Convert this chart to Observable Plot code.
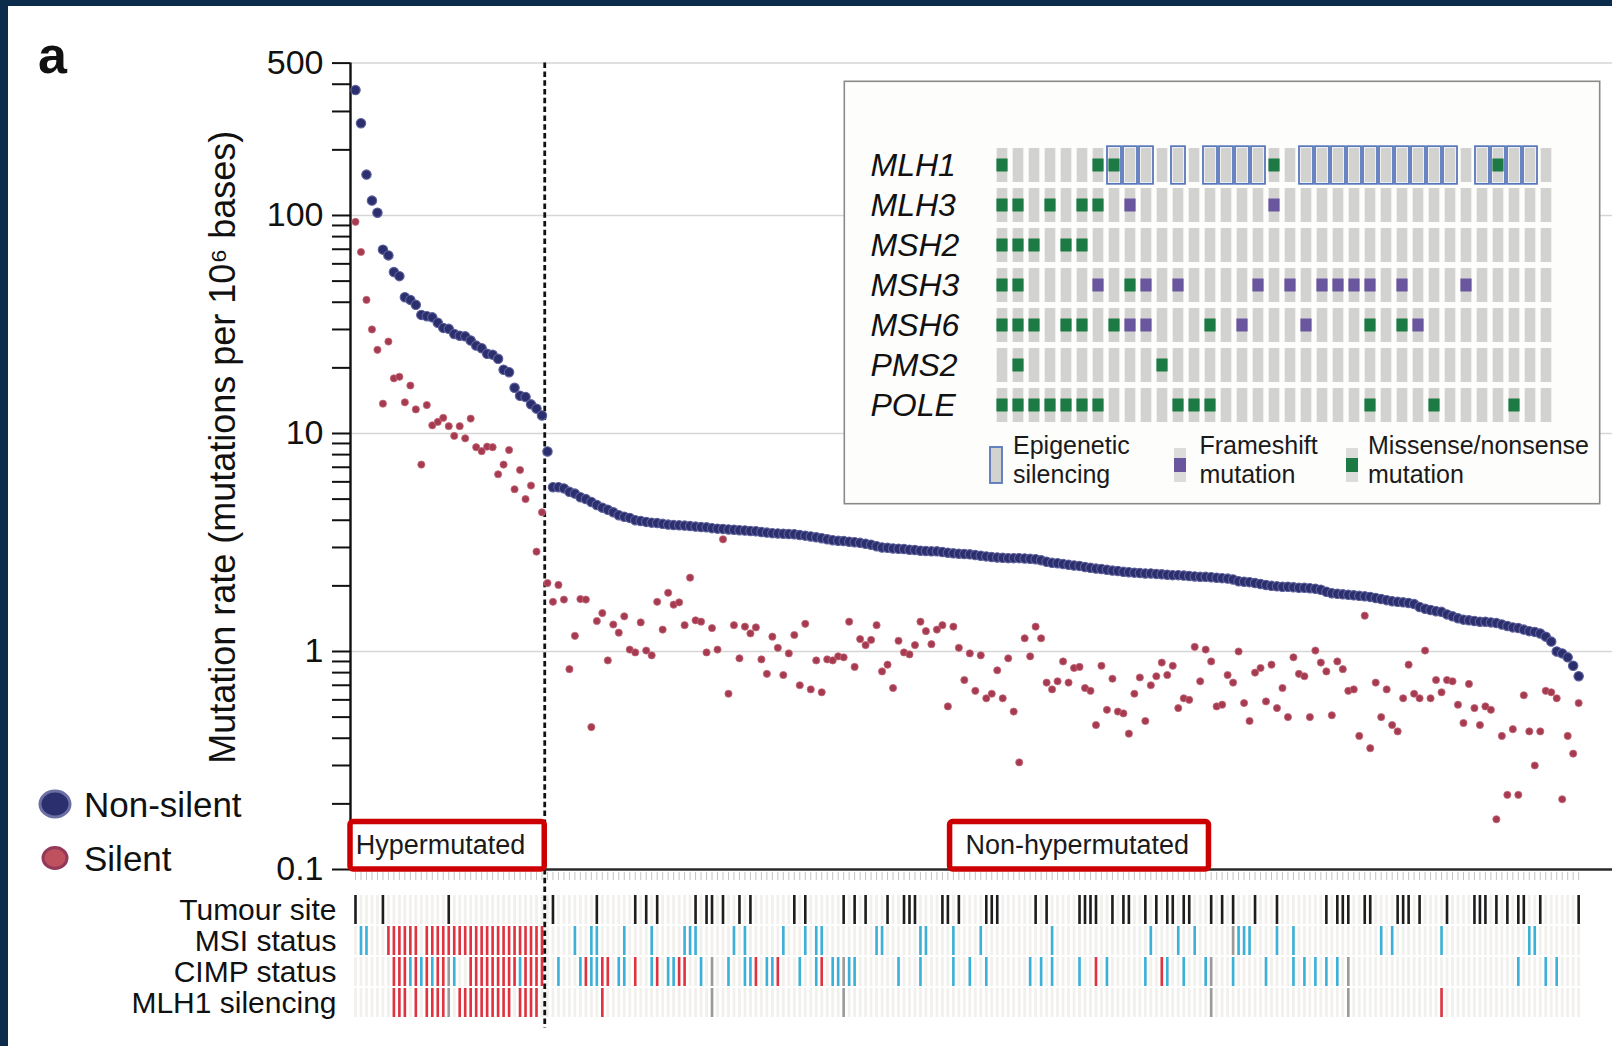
<!DOCTYPE html>
<html><head><meta charset="utf-8">
<script src="https://cdn.jsdelivr.net/npm/d3@7"></script>
<script src="https://cdn.jsdelivr.net/npm/@observablehq/plot@0.6"></script>
<style>
html,body{margin:0;padding:0;background:#fff;}
#fig{position:relative;width:1612px;height:1046px;overflow:hidden;background:#fff;font-family:"Liberation Sans",Arial,sans-serif;}
#fig svg{position:absolute;overflow:visible;}
</style></head><body><div id="fig"></div>
<script>
// ---------- data ----------
const nonSilent = [
376,265,154,117,103,69.7,65.6,55,52.7,42.2,41,38.9,35,34.5,34.1,32.2,30.5,30.2,28.6,28.1,
27.9,26.7,25.3,24.6,23.2,23,22,19.6,19.1,16.2,14.9,14.7,13.6,13,12.1,
8.27,5.67,5.67,5.6,5.4,5.3,5.1,5.0,4.85,4.7,4.57,4.47,4.35,4.22,4.15,4.1,4.0,3.97,3.93,3.9,
3.88,3.85,3.82,3.8,3.79,3.78,3.76,3.74,3.72,3.71,3.68,3.66,3.65,3.63,3.62,3.6,3.59,3.57,3.56,3.53,
3.51,3.49,3.48,3.47,3.46,3.45,3.42,3.4,3.37,3.34,3.31,3.27,3.24,3.22,3.21,3.19,3.17,3.15,3.12,3.09,
3.04,3.0,2.99,2.97,2.96,2.95,2.93,2.92,2.9,2.89,2.88,2.88,2.86,2.84,2.82,2.81,2.8,2.79,2.77,2.75,
2.73,2.71,2.7,2.69,2.68,2.68,2.68,2.67,2.66,2.65,2.62,2.58,2.55,2.54,2.52,2.5,2.48,2.47,2.44,2.42,
2.4,2.39,2.37,2.35,2.34,2.32,2.31,2.3,2.29,2.28,2.28,2.27,2.26,2.25,2.24,2.24,2.23,2.22,2.21,2.2,
2.2,2.19,2.18,2.17,2.16,2.14,2.1,2.09,2.08,2.06,2.04,2.02,2.0,1.99,1.98,1.98,1.97,1.96,1.96,1.95,
1.94,1.92,1.88,1.85,1.84,1.83,1.82,1.81,1.8,1.79,1.78,1.76,1.74,1.72,1.7,1.69,1.68,1.67,1.65,1.6,
1.57,1.55,1.53,1.52,1.48,1.45,1.42,1.4,1.39,1.38,1.37,1.37,1.36,1.35,1.33,1.31,1.29,1.28,1.26,1.24,
1.23,1.21,1.17,1.11,1.0,0.98,0.94,0.86,0.77];
const silent = [
93.5,68,41,30,24.2,13.7,26.4,17.9,18.2,13.9,16.6,12.9,7.2,13.5,10.9,11.3,11.8,10.8,9.75,10.8,
9.5,11.7,8.65,8.3,8.7,8.65,6.5,7.2,8.4,5.55,6.8,5.0,5.77,2.87,4.35,
2.06,1.69,2.02,1.73,0.83,1.18,1.74,1.73,0.45,1.38,1.5,0.91,1.33,1.22,1.45,1.02,0.99,1.36,1.01,0.96,
1.69,1.26,1.86,1.64,1.68,1.32,2.18,1.39,1.37,0.99,1.28,1.02,3.27,0.64,1.32,0.93,1.30,1.21,1.29,0.92,
0.79,1.17,1.04,0.78,0.98,1.19,0.70,1.34,0.67,0.91,0.65,0.92,0.91,0.95,0.94,1.37,0.85,1.14,1.07,1.13,
1.32,0.81,0.87,0.68,1.12,0.99,0.97,1.07,1.37,1.24,1.08,1.26,1.32,0.56,1.30,1.04,0.74,0.98,0.66,0.96,
0.61,0.64,0.82,0.61,0.93,0.53,0.31,1.15,0.95,1.30,1.15,0.72,0.67,0.73,0.90,0.72,0.84,0.85,0.68,0.66,
0.46,0.86,0.54,0.75,0.53,0.52,0.42,0.64,0.76,0.48,0.70,0.77,0.89,0.78,0.86,0.55,0.61,0.60,1.05,0.73,
1.02,0.90,0.56,0.57,0.78,0.72,1.0,0.58,0.48,0.80,0.84,0.59,0.87,0.55,0.68,0.50,0.94,0.79,0.77,0.50,
1.01,0.89,0.81,0.51,0.90,0.83,0.66,0.67,0.41,1.46,0.36,0.72,0.50,0.67,0.46,0.43,0.61,0.87,0.64,0.61,
1.01,0.61,0.74,0.65,0.74,0.73,0.57,0.47,0.71,0.55,0.46,0.56,0.54,0.17,0.41,0.22,0.44,0.22,0.63,0.43,
0.30,0.43,0.66,0.65,0.61,0.21,0.41,0.34,0.58];
const hyperCount = 35;

const yMajor = [0.1, 1, 10, 100, 500];
const yMinor = [0.2,0.3,0.4,0.5,0.6,0.7,0.8,0.9,2,3,4,5,6,7,8,9,20,30,40,50,60,70,80,90,200,300,400];
const gridValues = [1, 10, 100, 500];
const yLabel = "Mutation rate (mutations per 10\u2076 bases)";

const trackNames = ["Tumour site", "MSI status", "CIMP status", "MLH1 silencing"];
const tumourSite = [0,5,17,36,44,51,53,55,62,64,65,67,70,72,80,82,89,91,93,97,100,101,102,107,108,110,115,116,117,124,126,132,133,134,135,138,140,141,144,146,148,149,151,152,156,158,160,164,168,177,179,180,181,184,185,190,191,192,194,199,204,205,206,208,210,212,213,216,223];
const msiHigh = [6,7,8,9,10,11,13,14,15,16,17,18,19,20,21,22,23,24,25,26,27,28,29,30,31,32,33,34];
const msiLow = [1,2,40,43,44,49,54,60,61,62,69,71,78,82,84,85,95,96,103,104,109,114,127,145,150,153,161,162,163,168,171,187,189,198,214,215];
const msiOther = [160];
const cimpHigh = [7,8,9,11,13,15,16,21,22,23,24,25,26,27,28,29,31,32,33,34,42,45,46,51,55,59,60,73,77,85,135,147];
const cimpLow = [10,12,14,18,30,37,41,43,44,48,49,54,57,58,63,68,71,72,75,76,81,84,87,88,90,91,99,103,109,112,115,123,125,127,132,137,144,148,151,155,160,166,171,173,175,177,179,212,217,219];
const cimpOther = [17,65,89,156,181];
const mlh1Silenced = [7,8,9,11,13,14,15,16,19,20,21,22,23,24,25,26,27,28,30,31,32,33,45,198];
const mlh1Other = [17,65,89,156,181];

const genes = ["MLH1", "MLH3", "MSH2", "MSH3", "MSH6", "PMS2", "POLE"];
const epigeneticMLH1 = [7,8,9,11,13,14,15,16,19,20,21,22,23,24,25,26,27,28,30,31,32,33];
const missenseByGene = {
  MLH1: [0,6,7,17,31], MLH3: [0,1,3,5,6], MSH2: [0,1,2,4,5], MSH3: [0,1,8],
  MSH6: [0,1,2,4,5,7,13,23,25], PMS2: [1,10], POLE: [0,1,2,3,4,5,6,11,12,13,23,27,32]
};
const frameshiftByGene = { MLH3: [8,17], MSH3: [6,9,11,16,18,20,21,22,23,25,29], MSH6: [8,9,15,19,26] };
const groupLabels = ["Hypermutated", "Non-hypermutated"];

// ---------- styles ----------
const FONT = "Liberation Sans, Arial, Helvetica, sans-serif";
const C = {navy:"#2c2f6e", navyEdge:"#5d609a", wine:"#a53a51", wineEdge:"#c46b79",
  red:"#e0323f", blue:"#3bb1d9", gray:"#9b9b9b", black:"#1e1e1e", bg:"#f1f0ec",
  green:"#1e7a44", purple:"#6a569f", bar:"#d2d2d0", epi:"#5878bb", box:"#cc0000"};

const fig = document.getElementById("fig");
const N = nonSilent.length;
const samples = d3.range(N).map(i => ({i, nonSilent: nonSilent[i], silent: silent[i]}));
const xDomain = [-0.9116, 229.17];
const boundary = hyperCount - 0.5;
const dash = {stroke: "#111", strokeWidth: 2.8, strokeDasharray: "5.5,3.3"};

// ---------- tracks ----------
const trackColor = [
  [tumourSite, "Tumour site", C.black],
  [msiHigh, "MSI status", C.red], [msiLow, "MSI status", C.blue], [msiOther, "MSI status", C.gray],
  [cimpHigh, "CIMP status", C.red], [cimpLow, "CIMP status", C.blue], [cimpOther, "CIMP status", C.gray],
  [mlh1Silenced, "MLH1 silencing", C.red], [mlh1Other, "MLH1 silencing", C.gray]
];
const events = trackColor.flatMap(([arr, track, c]) => arr.map(i => ({i, track, c})));
const bgCells = trackNames.flatMap(track => d3.range(N).map(i => ({i, track})));

const tracks = Plot.plot({
  width: 1612, height: 177, marginLeft: 350, marginRight: 0, marginTop: 0, marginBottom: 0,
  style: {background: "transparent", fontFamily: FONT, color: "#111"},
  x: {domain: xDomain, axis: null},
  y: {type: "band", domain: trackNames, range: [25, 149.5], paddingInner: 0.065, paddingOuter: 0, axis: null},
  color: {type: "identity"},
  marks: [
    Plot.ruleX(d3.range(N), {x: d => d, stroke: "#c4c4c4", strokeWidth: 1, insetTop: 3, insetBottom: 166}),
    Plot.tickX(bgCells, {x: "i", y: "track", stroke: C.bg, strokeWidth: 2.8}),
    Plot.tickX(events, {x: "i", y: "track", stroke: d => d.c, strokeWidth: 2.6}),
    Plot.ruleX([boundary], {...dash, insetBottom: 18}),
    Plot.axisY({tickSize: 0, tickPadding: 14, fontSize: 30, label: null})
  ]
});
tracks.style.left = "0px"; tracks.style.top = "869px";
fig.appendChild(tracks);

// ---------- main plot ----------
const groups = [
  {label: groupLabels[0], x1: xDomain[0], x2: boundary, tx: 15.5},
  {label: groupLabels[1], x1: 108.4, x2: 155.6, tx: 131.6}
];
const main = Plot.plot({
  width: 1612, height: 875, marginLeft: 350, marginRight: 0, marginTop: 62.6, marginBottom: 6,
  style: {background: "transparent", fontFamily: FONT, color: "#111"},
  x: {domain: xDomain, axis: null},
  y: {type: "log", domain: [0.1, 500], axis: null},
  marks: [
    Plot.ruleY(gridValues, {stroke: "#d6d6d6", strokeWidth: 1.5}),
    Plot.ruleX([boundary], {y1: 500, y2: 0.1, ...dash}),
    Plot.axisY({ticks: [...yMajor, ...yMinor], tickSize: 18, strokeWidth: 2, tickFormat: () => "", label: null}),
    Plot.text(yMajor, {y: d => d, text: d => d3.format("~g")(d), frameAnchor: "left", textAnchor: "end", dx: -27, fontSize: 34, fill: "#111"}),
    Plot.ruleX([xDomain[0]], {y1: 0.1, y2: 500, stroke: "#111", strokeWidth: 2.4}),
    Plot.ruleY([0.1], {stroke: "#2a2a2a", strokeWidth: 2.6}),
    Plot.dot(samples, {x: "i", y: "silent", r: 3.6, fill: C.wine, stroke: C.wineEdge, strokeWidth: 0.8}),
    Plot.dot(samples, {x: "i", y: "nonSilent", r: 4.7, fill: C.navy, stroke: C.navyEdge, strokeWidth: 1.1}),
    Plot.rect(groups, {x1: "x1", x2: "x2", y1: 0.1, y2: 0.165, fill: "white", stroke: C.box, strokeWidth: 5.5, rx: 3}),
    Plot.text(groups, {x: "tx", y: 0.129, text: "label", fontSize: 27, fill: "#1a1a1a"}),
    Plot.text([yLabel], {text: d => d, frameAnchor: "left", textAnchor: "middle", rotate: -90, dx: -127, dy: -19, fontSize: 36, fill: "#111"})
  ]
});
main.style.left = "0px"; main.style.top = "0px";
fig.appendChild(main);

// ---------- inset (MMR genes of hypermutated samples) ----------
const cols = d3.range(hyperCount);
const gridCells = genes.flatMap(g => cols.map(c => ({g, c})));
const muts = [
  ...Object.entries(missenseByGene).flatMap(([g, arr]) => arr.map(c => ({g, c, color: C.green}))),
  ...Object.entries(frameshiftByGene).flatMap(([g, arr]) => arr.map(c => ({g, c, color: C.purple})))
];
const inset = Plot.plot({
  width: 757, height: 424, margin: 0,
  style: {background: "transparent", fontFamily: FONT, color: "#111"},
  x: {type: "band", domain: cols, range: [145, 717.8], padding: 0, axis: null},
  y: {type: "band", domain: genes, range: [64.25, 344.95], padding: 0, axis: null},
  color: {type: "identity"},
  marks: [
    Plot.frame({fill: "#fdfdfb", stroke: "#8a8a8a", strokeWidth: 1.6, inset: 0.8}),
    Plot.cell(gridCells, {x: "c", y: "g", fill: C.bar, insetLeft: 2.7, insetRight: 2.7, insetTop: 3, insetBottom: 3}),
    Plot.cell(epigeneticMLH1, {x: d => d, y: () => "MLH1", fill: "none", stroke: C.epi, strokeWidth: 1.8, insetLeft: 1, insetRight: 1, insetTop: 1.2, insetBottom: 1.2}),
    Plot.cell(muts, {x: "c", y: "g", fill: d => d.color, insetLeft: 2.4, insetRight: 2.4, insetTop: 13.5, insetBottom: 13.5}),
    Plot.text(genes, {y: d => d, text: d => d, frameAnchor: "left", dx: 27, textAnchor: "start", fontSize: 32, fontStyle: "italic", fill: "#111"})
  ]
});
inset.style.left = "843px"; inset.style.top = "80px";
fig.appendChild(inset);

// inset legend
const leg = d3.create("svg").attr("width", 757).attr("height", 424)
  .style("left", "843px").style("top", "80px").attr("font-family", FONT);
const legItems = [
  {x: 147, kind: "epi", lines: ["Epigenetic", "silencing"], tx: 170},
  {x: 331, kind: C.purple, lines: ["Frameshift", "mutation"], tx: 356.5},
  {x: 503, kind: C.green, lines: ["Missense/nonsense", "mutation"], tx: 525}
];
for (const it of legItems) {
  if (it.kind === "epi") {
    leg.append("rect").attr("x", it.x).attr("y", 367).attr("width", 12).attr("height", 36)
      .attr("fill", C.bar).attr("stroke", C.epi).attr("stroke-width", 1.8);
  } else {
    leg.append("rect").attr("x", it.x).attr("y", 368).attr("width", 12).attr("height", 34).attr("fill", "#dcdcda");
    leg.append("rect").attr("x", it.x).attr("y", 378).attr("width", 12).attr("height", 14).attr("fill", it.kind);
  }
  it.lines.forEach((t, k) => leg.append("text").attr("x", it.tx).attr("y", 365 + k * 29)
    .attr("dominant-baseline", "central").attr("font-size", 25).attr("fill", "#1a1a1a").text(t));
}
fig.appendChild(leg.node());

// ---------- page decorations: frame, panel letter, series legend ----------
const deco = d3.create("svg").attr("width", 1612).attr("height", 1046)
  .style("left", "0px").style("top", "0px").attr("font-family", FONT);
deco.append("rect").attr("x", 0).attr("y", 0).attr("width", 1612).attr("height", 6).attr("fill", "#0c2c4c");
deco.append("rect").attr("x", 0).attr("y", 0).attr("width", 8).attr("height", 1046).attr("fill", "#0c2c4c");
deco.append("text").attr("x", 38).attr("y", 73).attr("font-size", 52).attr("font-weight", "bold").attr("fill", "#111").text("a");
const seriesLegend = [
  {label: "Non-silent", y: 804, rx: 15, ry: 13, fill: C.navy, stroke: "#6c6fa2"},
  {label: "Silent", y: 858, rx: 12, ry: 10.5, fill: "#bf505e", stroke: "#93395a"}
];
for (const s of seriesLegend) {
  deco.append("ellipse").attr("cx", 55).attr("cy", s.y).attr("rx", s.rx).attr("ry", s.ry)
    .attr("fill", s.fill).attr("stroke", s.stroke).attr("stroke-width", 3);
  deco.append("text").attr("x", 84).attr("y", s.y).attr("dominant-baseline", "central")
    .attr("font-size", 35).attr("fill", "#111").text(s.label);
}
fig.appendChild(deco.node());
</script></body></html>
